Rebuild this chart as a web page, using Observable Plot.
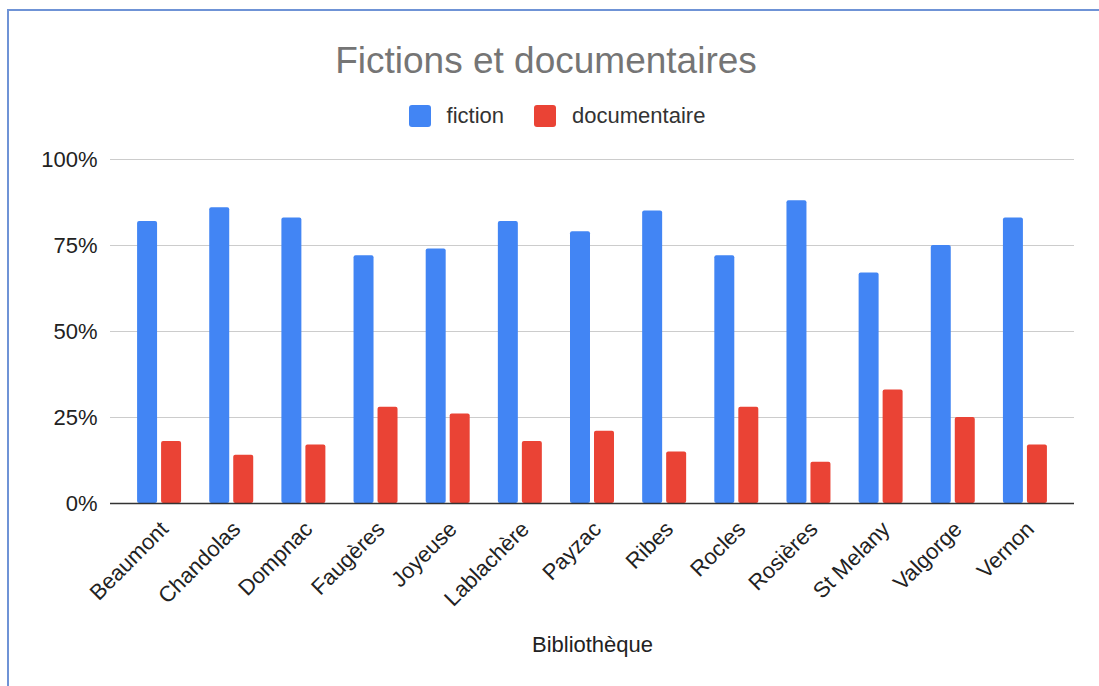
<!DOCTYPE html>
<html>
<head>
<meta charset="utf-8">
<script src="https://cdn.jsdelivr.net/npm/d3@7"></script>
<script src="https://cdn.jsdelivr.net/npm/@observablehq/plot@0.6"></script>
<style>
  html, body { margin: 0; padding: 0; background: #fff; width: 1099px; height: 686px; overflow: hidden; }
  body { position: relative; font-family: "Liberation Sans", Arial, sans-serif; }
  #frame { position: absolute; left: 7px; top: 9px; width: 1110px; height: 700px; border-left: 2px solid #6f93d6; border-top: 2px solid #6f93d6; box-sizing: border-box; }
  #title { position: absolute; left: 0; width: 1092px; top: 40px; text-align: center; font-size: 37px; color: #757575; line-height: 42px; }
  #legend { position: absolute; top: 103px; left: 0; width: 1114px; display: flex; justify-content: center; align-items: center; font-size: 22px; color: #333; }
  .item { display: flex; align-items: center; margin: 0 15px; }
  .sw { width: 22px; height: 22px; border-radius: 3px; margin-right: 16px; }
  #chart { position: absolute; left: 0; top: 140px; }
</style>
</head>
<body>
<div id="frame"></div>
<div id="title">Fictions et documentaires</div>
<div id="legend"></div>
<div id="chart"></div>
<script>
const bibliotheques = ["Beaumont","Chandolas","Dompnac","Faugères","Joyeuse","Lablachère","Payzac","Ribes","Rocles","Rosières","St Melany","Valgorge","Vernon"];
const fiction =       [0.82, 0.86, 0.83, 0.72, 0.74, 0.82, 0.79, 0.85, 0.72, 0.88, 0.67, 0.75, 0.83];
const documentaire =  [0.18, 0.14, 0.17, 0.28, 0.26, 0.18, 0.21, 0.15, 0.28, 0.12, 0.33, 0.25, 0.17];
const seriesNames = ["fiction", "documentaire"];
const seriesColors = ["#4285F4", "#EA4335"];
const yTicks = [0, 0.25, 0.5, 0.75, 1];
const xLabel = "Bibliothèque";

const fictionData = bibliotheques.map((b, i) => ({bib: b, value: fiction[i]}));
const docData = bibliotheques.map((b, i) => ({bib: b, value: documentaire[i]}));

const legend = document.getElementById("legend");
seriesNames.forEach((s, i) => {
  const it = document.createElement("div");
  it.className = "item";
  const sw = document.createElement("div");
  sw.className = "sw";
  sw.style.background = seriesColors[i];
  const t = document.createElement("span");
  t.textContent = s;
  it.appendChild(sw); it.appendChild(t);
  legend.appendChild(it);
});

const chart = Plot.plot({
  width: 1099,
  height: 546,
  marginLeft: 110,
  marginRight: 25,
  marginTop: 19,
  marginBottom: 183,
  style: {fontFamily: "'Liberation Sans', Arial, sans-serif", fontSize: "22px", color: "#222", background: "transparent"},
  x: {domain: bibliotheques, range: [123, 1061], paddingInner: 0.723, paddingOuter: 0.3615, round: false, label: null},
  y: {domain: [0, 1], label: null},
  marks: [
    Plot.ruleY(yTicks.filter(d => d > 0), {stroke: "#cccccc", strokeWidth: 1.2}),
    Plot.barY(fictionData, {x: "bib", y: "value", fill: seriesColors[0], dx: -12, rx: 2}),
    Plot.barY(docData, {x: "bib", y: "value", fill: seriesColors[1], dx: 12, rx: 2}),
    Plot.ruleY([0], {stroke: "#333", strokeWidth: 1.5}),
    Plot.axisY({ticks: yTicks, tickFormat: d3.format(".0%"), tickSize: 0, tickPadding: 13, fontSize: 22, label: null}),
    Plot.axisX({tickRotate: -45, tickSize: 0, tickPadding: 22, dx: 5, fontSize: 22, label: null}),
    Plot.text([xLabel], {frameAnchor: "bottom", dy: 148, fontSize: 22, fill: "#222"})
  ]
});
document.getElementById("chart").appendChild(chart);
</script>
</body>
</html>
